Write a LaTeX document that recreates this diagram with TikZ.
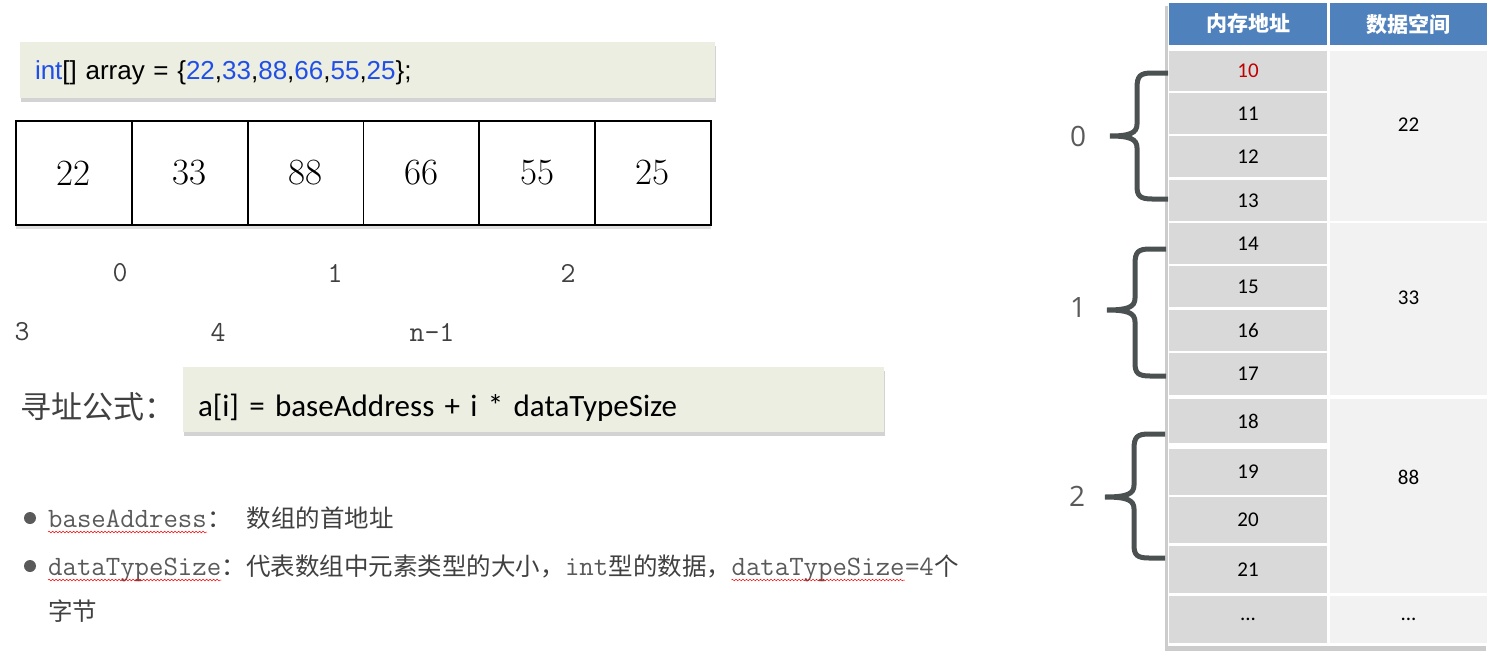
\documentclass[tikz,border=0pt]{standalone}
\usepackage{fontspec}
\usetikzlibrary{positioning,shadows,decorations.pathmorphing}
\newfontfamily\cjk{Noto Sans CJK SC}
\newfontfamily\arialf{Liberation Sans}
\newfontfamily\calf{Carlito}
\newfontfamily\opensf{Open Sans}
\definecolor{codegreen}{HTML}{EBEEE0}
\definecolor{codeblue}{HTML}{1F4FE8}
\definecolor{headblue}{HTML}{4F81BD}
\definecolor{addrgray}{HTML}{D9D9D9}
\definecolor{datagray}{HTML}{F2F2F2}
\definecolor{bracegray}{HTML}{4B5151}
\definecolor{txtgray}{HTML}{404040}
\definecolor{monogray}{HTML}{5A5A5A}
\definecolor{addrred}{HTML}{C00000}
\tikzset{
  codebox/.style={fill=codegreen, inner xsep=15pt, inner ysep=5pt, align=left,
    drop shadow={shadow xshift=1pt, shadow yshift=-4pt, opacity=0.35}},
  cell/.style={draw, fill=white, line width=1.8pt, outer sep=0pt, minimum width=115.8pt,
    minimum height=104pt, font=\fontsize{37}{37}\selectfont,
    drop shadow={shadow xshift=0pt, shadow yshift=-4pt, opacity=0.25}},
  idx/.style={font=\ttfamily\fontsize{29}{29}\selectfont, text=txtgray},
  mono/.style={font=\ttfamily\fontsize{28}{28}\selectfont, text=monogray, inner sep=0pt, anchor=base west},
  cjktxt/.style={font=\cjk\fontsize{24.5}{24.5}\selectfont, text=txtgray, inner sep=0pt, anchor=base west},
  squiggle/.style={draw=red, line width=0.5pt, decorate,
    decoration={snake, amplitude=0.8pt, segment length=3.5pt}},
  bullet/.style={circle, fill=monogray, inner sep=0pt, minimum size=12pt},
  head/.style={fill=headblue, inner sep=0pt, minimum height=42pt, text=white,
    font=\cjk\bfseries\fontsize{21}{21}\selectfont},
  addr/.style={fill=addrgray, inner sep=0pt, minimum width=158pt, font=\calf\fontsize{21}{21}\selectfont},
  data/.style={fill=datagray, inner sep=0pt, minimum width=157pt, font=\calf\fontsize{21}{21}\selectfont},
  memb/.style={draw=bracegray, line width=5pt},
  blabel/.style={font=\opensf\fontsize{28}{28}\selectfont, text=monogray}
}
\begin{document}
\begin{tikzpicture}[x=1pt, y=-1pt]
  \useasboundingbox (0,0) rectangle (1490,661);

  % declaration
  \node[codebox, text width=665pt, text height=32pt, text depth=14pt,
    font=\arialf\fontsize{26}{26}\selectfont] (decl) at (367.5,70)
    {\textcolor{codeblue}{int}[] array = \{\textcolor{codeblue}{22},\textcolor{codeblue}{33},\textcolor{codeblue}{88},\textcolor{codeblue}{66},\textcolor{codeblue}{55},\textcolor{codeblue}{25}\};};

  % array cells
  \node[cell] (c1) at (73.9,173) {22};
  \node[cell, right=0pt of c1] (c2) {33};
  \node[cell, right=0pt of c2] (c3) {88};
  \node[cell, right=0pt of c3] (c4) {66};
  \node[cell, right=0pt of c4] (c5) {55};
  \node[cell, right=0pt of c5] (c6) {25};

  % index labels
  \node[idx] (n0) at (120,273) {0};
  \node[idx] (n1) at (335,273) {1};
  \node[idx] (n2) at (568,273) {2};
  \node[idx] (n3) at (22,332) {3};
  \node[idx] (n4) at (218,332) {4};
  \node[idx] (nn) at (432,332) {n-1};

  % formula
  \node[anchor=west, inner sep=0pt, font=\cjk\fontsize{31}{31}\selectfont, text=txtgray] (flabel) at (20,407) {寻址公式：};
  \node[codebox, text width=671pt, text height=44pt, text depth=11pt,
    font=\calf\fontsize{31}{31}\selectfont] (formula) at (533.5,399.5)
    {a[i] = baseAddress + i * dataTypeSize};

  % notes
  \node[bullet] (b1) at (30,518) {};
  \node[mono] (ba) at (48,527) {baseAddress};
  \node[cjktxt] (ba2) at (ba.base east) {：\hspace{15pt}数组的首地址};
  \node[bullet] (b2) at (30,566) {};
  \node[mono] (dt1) at (48,575) {dataTypeSize};
  \node[cjktxt] (dt2) at (dt1.base east) {：代表数组中元素类型的大小，};
  \node[mono] (dt3) at (dt2.base east) {int};
  \node[cjktxt] (dt4) at (dt3.base east) {型的数据，};
  \node[mono] (dt5) at (dt4.base east) {dataTypeSize};
  \node[mono] (dt6) at (dt5.base east) {=4};
  \node[cjktxt] (dt7) at (dt6.base east) {个};
  \node[cjktxt] (dt8) at (48,620) {字节};
  \draw[squiggle] ([yshift=-5pt]ba.base west) -- ([yshift=-5pt]ba.base east);
  \draw[squiggle] ([yshift=-5pt]dt1.base west) -- ([yshift=-5pt]dt1.base east);
  \draw[squiggle] ([yshift=-5pt]dt5.base west) -- ([yshift=-5pt]dt5.base east);

  % memory table
  \node[fill=white, minimum width=321pt, minimum height=645pt, inner sep=0pt,
    drop shadow={shadow xshift=-3pt, shadow yshift=-5pt, opacity=0.4}] (tbl) at (1328.5,323.5) {};
  \node[head, minimum width=158pt] (h1) at (1248,24) {内存地址};
  \node[head, minimum width=157pt] (h2) at (1408.5,24) {数据空间};
  \node[addr, minimum height=40pt, text=addrred] (a10) at (1248,71) {10};
  \node[addr, minimum height=41pt] (a11) at (1248,113.5) {11};
  \node[addr, minimum height=41pt] (a12) at (1248,156.5) {12};
  \node[addr, minimum height=41pt] (a13) at (1248,200.5) {13};
  \node[addr, minimum height=41pt] (a14) at (1248,243.5) {14};
  \node[addr, minimum height=41pt] (a15) at (1248,286.5) {15};
  \node[addr, minimum height=41pt] (a16) at (1248,330.5) {16};
  \node[addr, minimum height=42pt] (a17) at (1248,374) {17};
  \node[addr, minimum height=44pt] (a18) at (1248,421) {18};
  \node[addr, minimum height=46pt] (a19) at (1248,472) {19};
  \node[addr, minimum height=46pt] (a20) at (1248,520) {20};
  \node[addr, minimum height=47pt] (a21) at (1248,569.5) {21};
  \node[addr, minimum height=47pt] (adots) at (1248,619.5) {...};
  \node[data, minimum height=170pt, text height=14pt, text depth=24pt] (d22) at (1408.5,136) {22};
  \node[data, minimum height=172pt, text height=14pt, text depth=24pt] (d33) at (1408.5,309) {33};
  \node[data, minimum height=194pt, text height=14pt, text depth=38pt] (d88) at (1408.5,496) {88};
  \node[data, minimum height=47pt] (ddots) at (1408.5,619.5) {...};

  % element braces
  \node[blabel] (e0) at (1078,136) {0};
  \node[blabel] (e1) at (1078,308) {1};
  \node[blabel] (e2) at (1077,496) {2};
  \draw[memb] (1168,73) -- (1152,73) .. controls (1140,73) and (1137,76) .. (1137,88) -- (1137,124)
    .. controls (1137,133) and (1130,136) .. (1110,136)
    .. controls (1130,136) and (1137,139) .. (1137,148) -- (1137,186)
    .. controls (1137,196) and (1140,199) .. (1152,199) -- (1168,199);
  \draw[memb] (1166,249) -- (1150,249) .. controls (1138,249) and (1135,252) .. (1135,264) -- (1135,298)
    .. controls (1135,307) and (1128,310) .. (1107,310)
    .. controls (1128,310) and (1135,313) .. (1135,322) -- (1135,363)
    .. controls (1135,373) and (1138,376) .. (1150,376) -- (1166,376);
  \draw[memb] (1165,434) -- (1149,434) .. controls (1137,434) and (1134,437) .. (1134,449) -- (1134,485)
    .. controls (1134,494) and (1127,497) .. (1105,497)
    .. controls (1127,497) and (1134,500) .. (1134,509) -- (1134,545)
    .. controls (1134,555) and (1137,558) .. (1149,558) -- (1165,558);
\end{tikzpicture}
\end{document}
